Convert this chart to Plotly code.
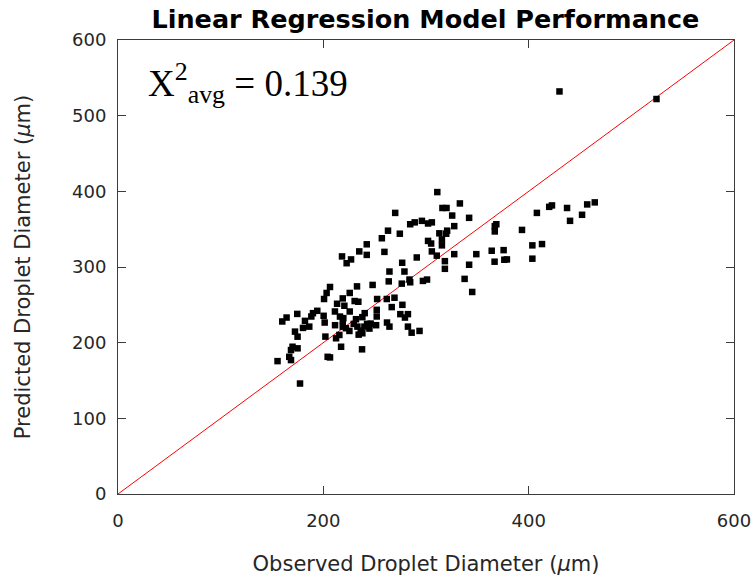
import plotly.graph_objects as go

observed = [
    430, 524.5, 311, 316, 320, 333, 270, 325.5, 342, 263, 257, 274.5, 284.6, 289, 296, 302, 305.7,
    313, 320.6, 319.7, 327.5, 302, 305, 315.5, 315.5, 259.5, 305.7, 310.5, 291, 327.5, 349, 318.4,
    318.4, 276.8, 264.4, 279, 342, 263.7, 276.4, 283.9, 284.6, 297, 301, 337.6, 345, 364, 375.6,
    366.8, 376.3, 378.8, 367, 368.5, 367, 393.5, 403.6, 413, 403.6, 408, 420, 422.7, 437.4, 440.3,
    452, 457, 464.4,
    261.8, 269.3, 266.6, 277, 275, 279.5, 282.4, 262, 264.4, 282.4, 286, 293.7,
    218.2, 227, 222.7, 235, 242.3, 242.3, 248, 206.5, 203.2, 200.7, 232.8, 225.7, 218.9, 213.4,
    220.5, 230.5, 234.1, 252.4,
    194.1, 189.9, 188.3, 200.3, 201.3, 174.6, 164.2, 160, 182.1, 180.2, 172.4, 211.3, 216.2, 219.5,
    225.7, 211.4, 218.9, 218.9, 231.8, 238, 240.3, 229.6, 233.2, 236.4, 240, 242.6, 246.1, 244.9,
    238, 234.4, 252, 251.4, 215.6, 202,
    186.3, 174.9, 222, 225.4, 212.4, 217.3, 170, 168.5, 174.9, 166.8, 168.5, 155.4, 204.2, 206.5,
    237.7, 177.3, 252,
]
predicted = [
    532, 522, 399, 378, 378, 384, 371.5, 368, 365, 348, 338, 344, 356.5, 359, 361, 357.5, 359,
    344.5, 348, 344, 354, 334.5, 331, 336.5, 328.6, 320, 320.6, 315, 312.6, 317, 317, 307.7,
    297.6, 305.6, 294, 294, 303, 281, 278, 283.4, 279.8, 281.6, 283.4, 284.3, 267, 321.5, 322.3,
    307, 309.6, 310, 354, 356.5, 347, 349, 328.6, 330.3, 311, 371.5, 379.5, 381.4, 378, 361,
    369, 382.7, 385.4,
    257.7, 259.4, 247, 250, 237.7, 233.2, 237.7, 226.6, 221.2, 221.2, 213.2, 215.5,
    314, 310, 305, 320.6, 330, 316, 276.3, 273.6, 265.7, 257.7, 274.4, 265.7, 258.5, 251.4,
    248.8, 255, 254.1, 257.7,
    242.1, 239, 234.6, 235.5, 226.6, 238, 233.2, 228, 228.8, 219.5, 214.6, 241.2, 234.5, 232.4,
    241.2, 223.1, 228.8, 221.2, 231, 233.7, 239, 224.8, 221.2, 215.9, 221.2, 224.8, 225.2, 218.6,
    212.4, 210.6, 234.6, 223.1, 210.2, 208,
    221.2, 207.9, 219.1, 215.5, 205.8, 194.6, 194.6, 190.2, 192.5, 181.3, 177, 175.6, 181.3, 180.5,
    191.2, 146, 243.4,
]
identity = [0, 600]
x_ticks = [0, 200, 400, 600]
y_ticks = [0, 100, 200, 300, 400, 500, 600]

fig = go.Figure()
fig.add_trace(go.Scatter(x=identity, y=identity, mode="lines",
                         line=dict(color="#ff0000", width=1), hoverinfo="skip"))
fig.add_trace(go.Scatter(x=observed, y=predicted, mode="markers",
                         marker=dict(symbol="square", size=6.5, color="black")))

axis_common = dict(showline=True, mirror="ticks", linecolor="#3c3c3c", linewidth=1,
                   ticks="inside", ticklen=8, tickcolor="#3c3c3c", showgrid=False,
                   zeroline=False, automargin=False,
                   tickfont=dict(family="DejaVu Sans", size=18, color="#262626"))

fig.update_layout(
    width=753, height=581,
    margin=dict(l=118, r=19, t=40, b=87),
    paper_bgcolor="white", plot_bgcolor="white",
    showlegend=False,
    title=dict(text="<b>Linear Regression Model Performance</b>", x=0.565, xanchor="center",
               y=0.967, yanchor="middle",
               font=dict(family="DejaVu Sans", size=25.5, color="black")),
    xaxis=dict(range=[0, 600], tickvals=x_ticks, ticklabelstandoff=10, **axis_common,
               title=dict(text="Observed Droplet Diameter (<i>μ</i>m)", standoff=26,
                          font=dict(family="DejaVu Sans", size=21, color="#262626"))),
    yaxis=dict(range=[0, 600], tickvals=y_ticks, ticklabelstandoff=7, **axis_common,
               title=dict(text="Predicted Droplet Diameter (<i>μ</i>m)", standoff=35,
                          font=dict(family="DejaVu Sans", size=21, color="#262626"))),
    annotations=[dict(text="X<sup>2</sup><sub>avg</sub> = 0.139", xref="paper", yref="paper",
                      x=0.045, y=0.905, xanchor="left", yanchor="middle", showarrow=False,
                      font=dict(family="Liberation Serif", size=37, color="black"))],
)

# remove the page's default 8px body margin so the figure fills the window exactly
fig.write_html("out.html", config={"displayModeBar": False},
               post_script="document.body.style.margin='0';document.body.style.overflow='hidden';")
